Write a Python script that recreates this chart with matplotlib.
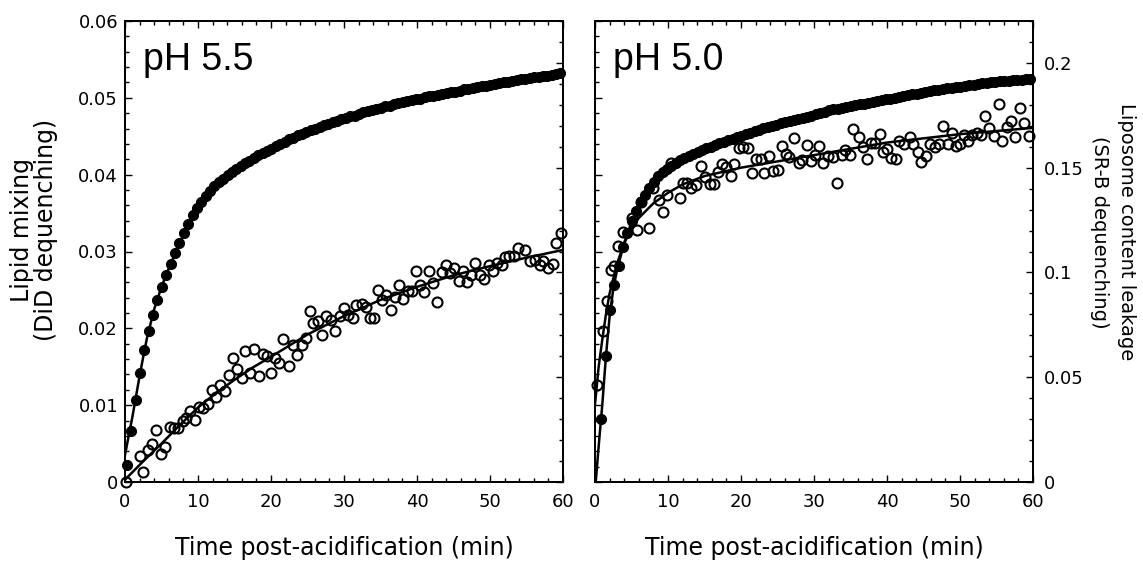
import matplotlib
matplotlib.use("Agg")
import matplotlib.pyplot as plt
from matplotlib.ticker import MultipleLocator, FuncFormatter

# ---------------- data ----------------
# sampling times of the dense (filled) traces, minutes
t_fill = [0.25, 0.85, 1.45, 2.05, 2.65, 3.25, 3.85, 4.45, 5.05, 5.65,
          6.25, 6.85, 7.45, 8.05, 8.65, 9.25, 9.85, 10.45, 11.05, 11.65,
          12.25, 12.85, 13.45, 14.05, 14.65, 15.25, 15.85, 16.45, 17.05, 17.65,
          18.25, 18.85, 19.45, 20.05, 20.65, 21.25, 21.85, 22.45, 23.05, 23.65,
          24.25, 24.85, 25.45, 26.05, 26.65, 27.25, 27.85, 28.45, 29.05, 29.65,
          30.25, 30.85, 31.45, 32.05, 32.65, 33.25, 33.85, 34.45, 35.05, 35.65,
          36.25, 36.85, 37.45, 38.05, 38.65, 39.25, 39.85, 40.45, 41.05, 41.65,
          42.25, 42.85, 43.45, 44.05, 44.65, 45.25, 45.85, 46.45, 47.05, 47.65,
          48.25, 48.85, 49.45, 50.05, 50.65, 51.25, 51.85, 52.45, 53.05, 53.65,
          54.25, 54.85, 55.45, 56.05, 56.65, 57.25, 57.85, 58.45, 59.05, 59.65]

# pH 5.5 lipid mixing (filled circles, left axis)
lipid_55 = [0.0022, 0.0066, 0.0107, 0.0142, 0.0172, 0.0196, 0.0217, 0.0237, 0.0254, 0.0269,
            0.0284, 0.0298, 0.0311, 0.0324, 0.0336, 0.0347, 0.0356, 0.0364, 0.0372, 0.0379,
            0.0385, 0.0390, 0.0395, 0.0399, 0.0403, 0.0407, 0.0411, 0.0415, 0.0418, 0.0422,
            0.0425, 0.0428, 0.0431, 0.0434, 0.0437, 0.0440, 0.0443, 0.0446, 0.0448, 0.0451,
            0.0453, 0.0455, 0.0458, 0.0460, 0.0462, 0.0464, 0.0466, 0.0468, 0.0470, 0.0472,
            0.0474, 0.0476, 0.0477, 0.0479, 0.0481, 0.0483, 0.0484, 0.0486, 0.0487, 0.0489,
            0.0490, 0.0492, 0.0493, 0.0494, 0.0496, 0.0497, 0.0498, 0.0499, 0.0501, 0.0502,
            0.0503, 0.0504, 0.0505, 0.0506, 0.0507, 0.0508, 0.0509, 0.0511, 0.0512, 0.0513,
            0.0514, 0.0515, 0.0516, 0.0517, 0.0518, 0.0519, 0.0520, 0.0521, 0.0522, 0.0523,
            0.0524, 0.0525, 0.0526, 0.0527, 0.0527, 0.0528, 0.0529, 0.0530, 0.0531, 0.0532]

# pH 5.0 filled circles (right-axis units), sampled at t_fill[1:]
lipid_50 = [0.030, 0.060, 0.082, 0.094, 0.103, 0.112, 0.119, 0.1245, 0.1295,
            0.1338, 0.1372, 0.1403, 0.1432, 0.1458, 0.1479, 0.1496, 0.1510, 0.1523, 0.1535,
            0.1546, 0.1556, 0.1566, 0.1575, 0.1584, 0.1593, 0.1601, 0.1609, 0.1617, 0.1624,
            0.1632, 0.1639, 0.1646, 0.1653, 0.1660, 0.1667, 0.1676, 0.1682, 0.1688, 0.1694,
            0.1700, 0.1706, 0.1712, 0.1717, 0.1723, 0.1728, 0.1734, 0.1739, 0.1744, 0.1749,
            0.1754, 0.1759, 0.1764, 0.1773, 0.1778, 0.1782, 0.1786, 0.1790, 0.1794, 0.1798,
            0.1802, 0.1806, 0.1810, 0.1814, 0.1818, 0.1822, 0.1826, 0.1830, 0.1834, 0.1838,
            0.1842, 0.1846, 0.1850, 0.1854, 0.1858, 0.1862, 0.1866, 0.1869, 0.1872, 0.1875,
            0.1878, 0.1881, 0.1884, 0.1887, 0.1890, 0.1893, 0.1896, 0.1899, 0.1902, 0.1905,
            0.1908, 0.1910, 0.1912, 0.1914, 0.1916, 0.1918, 0.1919, 0.1920, 0.1921, 0.1922]

# pH 5.5 open circles (left-axis units)
t_open_55 = [0.2, 2.0, 2.4, 3.2, 3.7, 4.3, 4.9, 5.5, 6.1, 6.7, 7.3, 7.9, 8.4, 8.9, 9.6,
             10.2, 10.7, 11.4, 11.9, 12.5, 13.0, 13.7, 14.2, 14.8, 15.4, 16.0, 16.5, 17.1,
             17.7, 18.4, 18.9, 19.4, 20.0, 20.6, 21.1, 21.7, 22.4, 23.0, 23.5, 24.2, 24.8,
             25.3, 25.8, 26.5, 27.0, 27.6, 28.2, 28.8, 29.4, 30.0, 30.6, 31.2, 31.7, 32.4,
             33.0, 33.5, 34.1, 34.6, 35.2, 35.8, 36.4, 37.0, 37.6, 38.1, 38.7, 39.3, 39.9,
             40.4, 41.0, 41.6, 42.2, 42.8, 43.4, 44.0, 44.5, 45.1, 45.7, 46.3, 46.8, 47.4,
             48.0, 48.6, 49.2, 49.8, 50.4, 50.9, 51.6, 52.1, 52.6, 53.3, 53.9, 54.8, 55.5,
             56.2, 56.8, 57.3, 58.0, 58.6, 59.1, 59.7]
leak_55 = [0.0000, 0.0034, 0.0013, 0.0042, 0.0050, 0.0068, 0.0037, 0.0045, 0.0072, 0.0070,
           0.0070, 0.0079, 0.0083, 0.0092, 0.0081, 0.0098, 0.0096, 0.0102, 0.0120, 0.0110,
           0.0126, 0.0118, 0.0139, 0.0162, 0.0147, 0.0135, 0.0171, 0.0142, 0.0173, 0.0138,
           0.0167, 0.0164, 0.0142, 0.0162, 0.0155, 0.0186, 0.0151, 0.0178, 0.0165, 0.0178,
           0.0188, 0.0223, 0.0207, 0.0210, 0.0191, 0.0216, 0.0211, 0.0197, 0.0216, 0.0227,
           0.0218, 0.0213, 0.0230, 0.0232, 0.0228, 0.0214, 0.0214, 0.0250, 0.0237, 0.0243,
           0.0224, 0.0241, 0.0256, 0.0238, 0.0248, 0.0248, 0.0275, 0.0256, 0.0247, 0.0275,
           0.0259, 0.0234, 0.0273, 0.0282, 0.0272, 0.0278, 0.0262, 0.0275, 0.0260, 0.0269,
           0.0285, 0.0270, 0.0264, 0.0282, 0.0274, 0.0285, 0.0282, 0.0293, 0.0294, 0.0294,
           0.0304, 0.0302, 0.0287, 0.0289, 0.0282, 0.0287, 0.0279, 0.0284, 0.0311, 0.0324]

# pH 5.0 open circles (right-axis units)
t_open_50 = [0.3, 1.05, 1.6, 2.15, 2.6, 3.2, 3.9, 5.0, 5.8, 6.3, 7.4, 7.9, 8.7, 9.3, 9.9,
             10.4, 11.6, 12.1, 12.6, 13.2, 13.9, 14.5, 15.1, 15.8, 16.3, 16.8, 17.4, 18.0,
             18.6, 19.1, 19.7, 20.3, 20.9, 21.5, 22.1, 22.7, 23.2, 23.8, 24.4, 25.0, 25.6,
             26.1, 26.6, 27.3, 27.9, 28.4, 29.0, 29.6, 30.1, 30.7, 31.3, 31.9, 32.6, 33.1,
             33.8, 34.3, 34.9, 35.4, 36.1, 36.7, 37.2, 37.8, 38.4, 39.0, 39.5, 40.0, 40.6,
             41.2, 41.7, 42.3, 43.1, 43.6, 44.2, 44.7, 45.4, 45.9, 46.6, 47.1, 47.7, 48.3,
             48.9, 49.5, 50.0, 50.6, 51.1, 51.7, 52.3, 52.9, 53.4, 54.0, 54.7, 55.3, 55.8,
             56.4, 57.0, 57.5, 58.2, 58.7, 59.4]
leak_50 = [0.0463, 0.0722, 0.0866, 0.1012, 0.1030, 0.1127, 0.1195, 0.1259, 0.1203, 0.1338,
           0.1214, 0.1402, 0.1346, 0.1290, 0.1370, 0.1524, 0.1354, 0.1426, 0.1426, 0.1402,
           0.1418, 0.1508, 0.1457, 0.1422, 0.1421, 0.1481, 0.1518, 0.1505, 0.1462, 0.1516,
           0.1593, 0.1601, 0.1593, 0.1473, 0.1540, 0.1540, 0.1476, 0.1558, 0.1486, 0.1489,
           0.1604, 0.1566, 0.1553, 0.1644, 0.1521, 0.1537, 0.1609, 0.1534, 0.1561, 0.1605,
           0.1521, 0.1556, 0.1553, 0.1426, 0.1561, 0.1582, 0.1561, 0.1683, 0.1648, 0.1601,
           0.1540, 0.1617, 0.1620, 0.1661, 0.1574, 0.1588, 0.1545, 0.1540, 0.1625, 0.1613,
           0.1648, 0.1613, 0.1577, 0.1529, 0.1556, 0.1613, 0.1601, 0.1613, 0.1699, 0.1613,
           0.1667, 0.1604, 0.1613, 0.1656, 0.1625, 0.1656, 0.1664, 0.1656, 0.1747, 0.1688,
           0.1652, 0.1803, 0.1628, 0.1696, 0.1723, 0.1648, 0.1784, 0.1715, 0.1652]

# fitted curves (solid lines)
fit_t_55f = [0, 0.5, 1, 1.5, 2, 2.5, 3, 4, 5, 6, 7, 8, 10, 12, 15, 20, 25, 30, 35, 40, 45, 50, 55, 60]
fit_55f = [0.0035, 0.0060, 0.0084, 0.0111, 0.0138, 0.0163, 0.0187, 0.0225, 0.0254, 0.0278,
           0.0300, 0.0321, 0.0358, 0.0383, 0.0406, 0.0434, 0.0457, 0.0474, 0.0488, 0.0499,
           0.0508, 0.0517, 0.0525, 0.0532]
fit_t_55o = [0, 2.5, 5, 7.5, 10, 12.5, 15, 17.5, 20, 25, 30, 35, 40, 45, 50, 55, 60]
fit_55o = [0.0003, 0.0027, 0.0050, 0.0074, 0.0097, 0.0116, 0.0133, 0.0149, 0.0163, 0.0192,
           0.0216, 0.0237, 0.0254, 0.0269, 0.0281, 0.0292, 0.0302]
fit_t_50f = [0.1, 0.5, 1, 1.5, 2, 2.5, 3, 4, 5, 6, 8, 10, 15, 20, 30, 40, 50, 60]
fit_50f = [0.0, 0.017, 0.037, 0.060, 0.079, 0.092, 0.101, 0.114, 0.124, 0.1325, 0.1435,
           0.1500, 0.1595, 0.1655, 0.1752, 0.1830, 0.1888, 0.1923]
fit_t_50o = [0, 0.5, 1, 1.5, 2, 3, 4, 5, 6, 8, 10, 12, 15, 20, 25, 30, 35, 40, 45, 50, 55, 60]
fit_50o = [0.037, 0.055, 0.068, 0.080, 0.090, 0.104, 0.114, 0.121, 0.126, 0.133, 0.138,
           0.142, 0.146, 0.150, 0.153, 0.156, 0.159, 0.162, 0.164, 0.166, 0.1675, 0.169]

panel_titles = ["pH 5.5", "pH 5.0"]
x_label = "Time post-acidification (min)"
left_label = "Lipid mixing\n(DiD dequenching)"
right_label = "Liposome content leakage\n(SR-B dequenching)"

# ---------------- figure ----------------
W, H = 1143, 562
fig = plt.figure(figsize=(W / 100, H / 100), dpi=100)
plt.rcParams["font.family"] = ["DejaVu Sans"]

def fx(px):
    return px / W

def fy(py):
    return 1 - py / H

ax_l = fig.add_axes([fx(125), fy(482), fx(563) - fx(125), fy(21) - fy(482)])
ax_r = fig.add_axes([fx(595), fy(482), fx(1033) - fx(595), fy(21) - fy(482)])
ax_l2 = ax_l.twinx()
ax_r2 = ax_r.twinx()

fmt = FuncFormatter(lambda v, p: "0" if abs(v) < 1e-12 else f"{v:g}")
tick_fs = 13

for ax in (ax_l, ax_r):
    ax.set_xlim(0, 60)
    ax.set_ylim(0, 0.06)
    ax.xaxis.set_major_locator(MultipleLocator(10))
    ax.xaxis.set_minor_locator(MultipleLocator(2))
    ax.yaxis.set_major_locator(MultipleLocator(0.01))
    ax.yaxis.set_minor_locator(MultipleLocator(0.002))
    ax.yaxis.set_major_formatter(fmt)
    ax.tick_params(which="both", direction="in", top=True, right=False,
                   labelsize=tick_fs, width=1.0)
    ax.tick_params(axis="x", which="both", pad=8)
    ax.tick_params(axis="y", which="both", pad=5)
    ax.tick_params(which="major", length=5)
    ax.tick_params(which="minor", length=3)
    for s in ax.spines.values():
        s.set_linewidth(1.3)
    ax.set_xlabel(x_label, fontsize=17, labelpad=18)

for ax in (ax_l2, ax_r2):
    ax.set_ylim(0, 0.22)
    ax.yaxis.set_major_locator(MultipleLocator(0.05))
    ax.yaxis.set_minor_locator(MultipleLocator(0.01))
    ax.yaxis.set_major_formatter(fmt)
    ax.tick_params(which="both", direction="in", labelsize=tick_fs, width=1.0, pad=8)
    ax.tick_params(which="major", length=5)
    ax.tick_params(which="minor", length=3)
    for s in ax.spines.values():
        s.set_linewidth(1.3)

ax_r.tick_params(axis="y", labelleft=False)
ax_l2.tick_params(axis="y", labelright=False)

MS = 7.2

# ---- left panel (pH 5.5) ----
ax_l.plot(fit_t_55f, fit_55f, color="black", lw=1.8, zorder=2)
ax_l.plot(fit_t_55o, fit_55o, color="black", lw=1.8, zorder=2)
ax_l.plot(t_fill, lipid_55, linestyle="none", marker="o", ms=MS,
          mfc="black", mec="black", mew=0.8, zorder=3, clip_on=False)
ax_l.plot(t_open_55, leak_55, linestyle="none", marker="o", ms=MS,
          mfc="none", mec="black", mew=1.5, zorder=3, clip_on=False)

# ---- right panel (pH 5.0) ----
ax_r2.plot(fit_t_50f, fit_50f, color="black", lw=1.8, zorder=2)
ax_r2.plot(fit_t_50o, fit_50o, color="black", lw=1.8, zorder=2)
ax_r2.plot(t_fill[1:], lipid_50, linestyle="none", marker="o", ms=MS,
           mfc="black", mec="black", mew=0.8, zorder=3, clip_on=False)
ax_r2.plot(t_open_50, leak_50, linestyle="none", marker="o", ms=MS,
           mfc="none", mec="black", mew=1.5, zorder=3, clip_on=False)

for ax, title in zip((ax_l, ax_r), panel_titles):
    ax.text(0.04, 0.955, title, transform=ax.transAxes, ha="left", va="top",
            fontsize=27, family=["Liberation Sans", "DejaVu Sans"])

fig.text(fx(34), fy(230), left_label, rotation=90, ha="center", va="center",
         fontsize=17, linespacing=1.05, multialignment="center")
fig.text(fx(1113), fy(232), right_label, rotation=-90, ha="center", va="center",
         fontsize=14, linespacing=1.5, multialignment="center")

fig.savefig("out.png", dpi=100)
